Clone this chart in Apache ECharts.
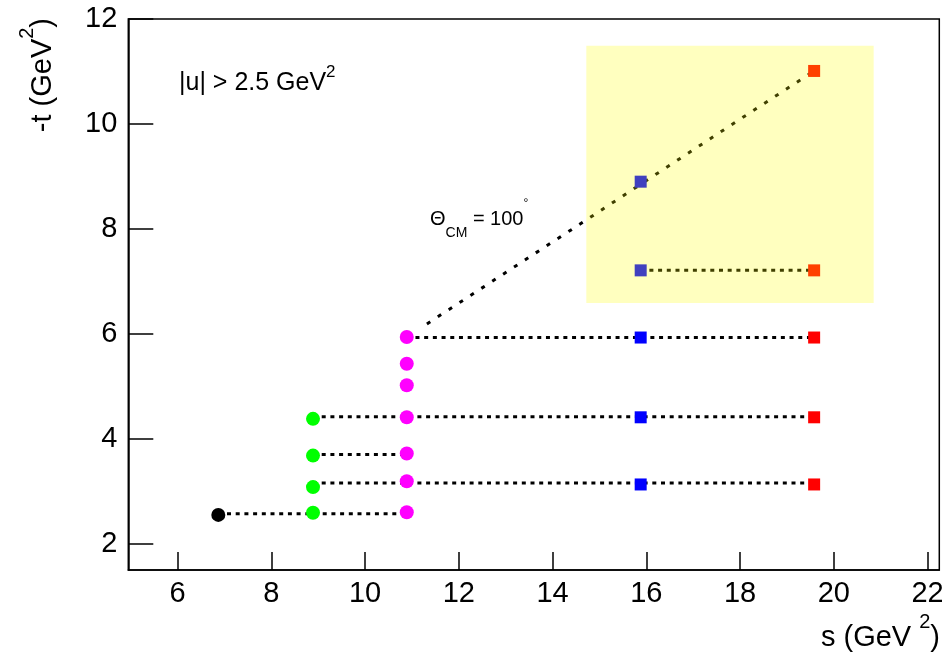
<!DOCTYPE html>
<html>
<head>
<meta charset="utf-8">
<script src="https://cdn.jsdelivr.net/npm/echarts@6/dist/echarts.min.js"></script>
<style>
html,body{margin:0;padding:0;background:#fff;}
#chart{width:942px;height:656px;}
</style>
</head>
<body>
<div id="chart"></div>
<script>
// ---- data ----
var xTicks = [6, 8, 10, 12, 14, 16, 18, 20, 22];
var yTicks = [2, 4, 6, 8, 10, 12];

var blackS = [6.87];
var blackT = [2.55];
var greenS = [8.89, 8.89, 8.89, 8.89];
var greenT = [2.59, 3.08, 3.68, 4.38];
var magentaS = [10.89, 10.89, 10.89, 10.89, 10.89, 10.89, 10.89];
var magentaT = [2.60, 3.19, 3.72, 4.41, 5.02, 5.43, 5.94];
var blueS = [15.88, 15.88, 15.88, 15.88, 15.88];
var blueT = [3.13, 4.41, 5.93, 7.21, 8.90];
var redS = [19.58, 19.58, 19.58, 19.58, 19.58];
var redT = [3.13, 4.41, 5.93, 7.21, 11.01];

// dotted connecting lines: [sStart, sEnd, t]
var hLines = [
  [6.87, 10.89, 2.57],
  [8.89, 19.58, 3.16],
  [8.89, 10.89, 3.70],
  [8.89, 19.58, 4.42],
  [10.89, 19.58, 5.93],
  [15.88, 19.58, 7.21]
];
// Theta_CM = 100 deg curve
var thetaS = [11.32, 14.65, 16.05, 17.93, 19.58];
var thetaT = [6.19, 8.13, 8.95, 10.05, 11.01];

// highlighted region [sMin, tMin, sMax, tMax]
var boxRange = [14.72, 6.59, 20.85, 11.49];

function zip(a, b) { return a.map(function (v, i) { return [v, b[i]]; }); }

var FONT = "'Liberation Sans', Arial, Helvetica, sans-serif";
var dotted = { color: '#000', width: 3, type: [4, 4.7] };

var series = [];
hLines.forEach(function (l) {
  series.push({
    type: 'line', data: [[l[0], l[2]], [l[1], l[2]]],
    symbol: 'none', lineStyle: dotted, z: 2, silent: true
  });
});
series.push({
  type: 'line', data: zip(thetaS, thetaT), symbol: 'none',
  lineStyle: { color: '#000', width: 3, type: [4, 9] }, z: 2, silent: true
});
function scat(s, t, color, symbol, size) {
  return { type: 'scatter', data: zip(s, t), symbol: symbol, symbolSize: size,
    itemStyle: { color: color, opacity: 1 }, z: 4, silent: true };
}
series.push(scat(blackS, blackT, '#000000', 'circle', 14));
series.push(scat(greenS, greenT, '#00ff00', 'circle', 14));
series.push(scat(magentaS, magentaT, '#ff00ff', 'circle', 14));
series.push(scat(blueS, blueT, '#0000ff', 'rect', 12));
series.push(scat(redS, redT, '#ff0000', 'rect', 12));
series.push({
  type: 'scatter', data: [], z: 10, silent: true,
  markArea: {
    silent: true, z: 10,
    itemStyle: { color: 'rgba(255,255,0,0.25)', borderWidth: 0 },
    data: [[{ coord: [boxRange[0], boxRange[1]] }, { coord: [boxRange[2], boxRange[3]] }]]
  }
});

var chart = echarts.init(document.getElementById('chart'));
chart.setOption({
  animation: false,
  backgroundColor: '#fff',
  grid: { left: 128.3, right: 2.7, top: 19, bottom: 86, show: true,
    outerBoundsMode: 'none', containLabel: false,
    borderColor: '#000', borderWidth: 1.5, backgroundColor: 'transparent' },
  xAxis: {
    type: 'value', min: 4.95, max: 22.25,
    splitLine: { show: false },
    axisLine: { show: true, onZero: false, lineStyle: { color: '#000', width: 1.5 } },
    axisTick: { show: true, inside: true, length: 18, customValues: xTicks,
      lineStyle: { color: '#000', width: 1.5 } },
    minorTick: { show: false },
    axisLabel: { customValues: xTicks, margin: 9, color: '#000', fontSize: 29, fontFamily: FONT,
      hideOverlap: false, formatter: function (v) { return String(v); } }
  },
  yAxis: {
    type: 'value', min: 1.5, max: 12,
    splitLine: { show: false },
    axisLine: { show: true, onZero: false, lineStyle: { color: '#000', width: 1.5 } },
    axisTick: { show: true, inside: true, length: 25, customValues: yTicks,
      lineStyle: { color: '#000', width: 1.5 } },
    axisLabel: { customValues: yTicks, margin: 11, color: '#000', fontSize: 29, fontFamily: FONT,
      hideOverlap: false, formatter: function (v) { return String(v); } }
  },
  graphic: [
    {
      type: 'text', x: 37, y: 18, rotation: Math.PI / 2, z: 20,
      style: {
        text: '{a|-t (GeV}{s|2}{a|)}', align: 'right', verticalAlign: 'middle',
        rich: {
          a: { fontSize: 29, fontFamily: FONT, fill: '#000', lineHeight: 40, verticalAlign: 'bottom' },
          s: { fontSize: 20, fontFamily: FONT, fill: '#000', lineHeight: 40, verticalAlign: 'top' }
        }
      }
    },
    {
      type: 'text', x: 940, y: 632, z: 20,
      style: {
        text: '{a|s (GeV }{s|2}{a|)}', align: 'right', verticalAlign: 'middle',
        rich: {
          a: { fontSize: 29, fontFamily: FONT, fill: '#000', lineHeight: 40, verticalAlign: 'bottom' },
          s: { fontSize: 20, fontFamily: FONT, fill: '#000', lineHeight: 40, verticalAlign: 'top' }
        }
      }
    },
    {
      type: 'text', x: 179, y: 80, z: 20,
      style: {
        text: '{a||u| > 2.5 GeV}{s|2}', align: 'left', verticalAlign: 'middle',
        rich: {
          a: { fontSize: 25, fontFamily: FONT, fill: '#000', lineHeight: 32, verticalAlign: 'bottom' },
          s: { fontSize: 17, fontFamily: FONT, fill: '#000', lineHeight: 32, verticalAlign: 'top' }
        }
      }
    },
    {
      type: 'text', x: 430, y: 219, z: 20,
      style: {
        text: '{a|\u0398}{b|CM}{a| = 100}{c|\u00b0}', align: 'left', verticalAlign: 'middle',
        rich: {
          a: { fontSize: 20, fontFamily: FONT, fill: '#000', lineHeight: 28, verticalAlign: 'middle' },
          b: { fontSize: 14, fontFamily: FONT, fill: '#000', lineHeight: 28, verticalAlign: 'bottom' },
          c: { fontSize: 12, fontFamily: FONT, fill: '#000', lineHeight: 42, verticalAlign: 'top' }
        }
      }
    }
  ],
  series: series
});
</script>
</body>
</html>
